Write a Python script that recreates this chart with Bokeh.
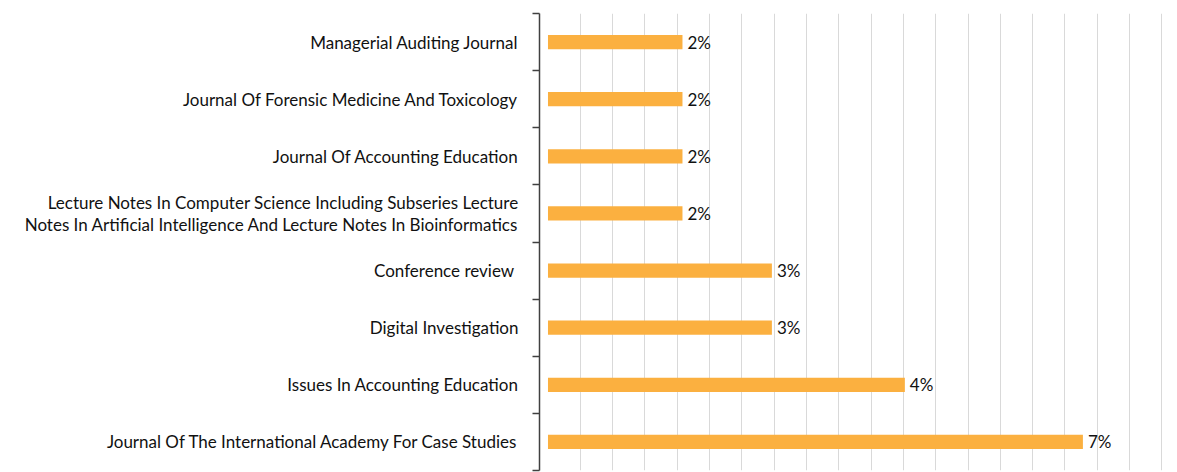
from bokeh.plotting import figure
from bokeh.models import Range1d, FixedTicker, LinearAxis, Grid, ColumnDataSource
from bokeh.core.properties import value
from bokeh.embed import file_html
from bokeh.resources import INLINE

# categories listed top to bottom
categories = [
    "Managerial Auditing Journal",
    "Journal Of Forensic Medicine And Toxicology",
    "Journal Of Accounting Education",
    "Lecture Notes In Computer Science Including Subseries Lecture\nNotes In Artificial Intelligence And Lecture Notes In Bioinformatics",
    "Conference review ",
    "Digital Investigation",
    "Issues In Accounting Education",
    "Journal Of The International Academy For Case Studies",
]
shares = [1.76, 1.76, 1.76, 1.76, 2.93, 2.93, 4.67, 7.0]
share_labels = ["2%", "2%", "2%", "2%", "3%", "3%", "4%", "7%"]

FONT = "Lato"
FSIZE = "17px"
BAR = "#FBB040"
TXT = "#111111"
n = len(categories)
centers = [n - i - 0.5 for i in range(n)]
grid_step = 0.4228

src = ColumnDataSource(dict(y=centers, v=shares, lab=share_labels))

p = figure(width=1168, height=472, output_backend="svg", toolbar_location=None,
           x_range=Range1d(-0.111, 8.12), y_range=Range1d(0, n),
           x_axis_location=None, y_axis_location=None,
           min_border_left=539, min_border_right=0, min_border_top=13, min_border_bottom=2)
p.outline_line_color = None
p.grid.visible = False

p.add_layout(Grid(dimension=0, ticker=FixedTicker(ticks=[grid_step * k for k in range(1, 21)]),
                  grid_line_color="#D9D9D9", grid_line_width=1))

ax1 = LinearAxis(ticker=FixedTicker(ticks=list(range(n + 1))),
                 major_label_overrides={k: "" for k in range(n + 1)},
                 major_tick_out=7, major_tick_in=0, minor_tick_out=0, minor_tick_in=0,
                 axis_line_color="#404040", axis_line_width=1.5,
                 major_tick_line_color="#404040", major_tick_line_width=1.5,
                 major_label_standoff=0)
p.add_layout(ax1, "left")

ax2 = LinearAxis(ticker=FixedTicker(ticks=centers),
                 major_label_overrides={c: name for c, name in zip(centers, categories)},
                 axis_line_color=None, major_tick_line_color=None, minor_tick_line_color=None,
                 major_tick_out=0, major_tick_in=0,
                 major_label_standoff=14,
                 major_label_text_font=FONT, major_label_text_font_size=FSIZE,
                 major_label_text_line_height=1.05,
                 major_label_text_color=TXT)
p.add_layout(ax2, "left")

p.hbar(y="y", right="v", left=0, height=0.25, source=src, fill_color=BAR, line_color=None)
p.text(x="v", y="y", text="lab", source=src, x_offset=5, text_baseline="middle",
       text_font=value(FONT), text_font_size=FSIZE, text_color=TXT)

open("out.html", "w").write(file_html(p, INLINE))
